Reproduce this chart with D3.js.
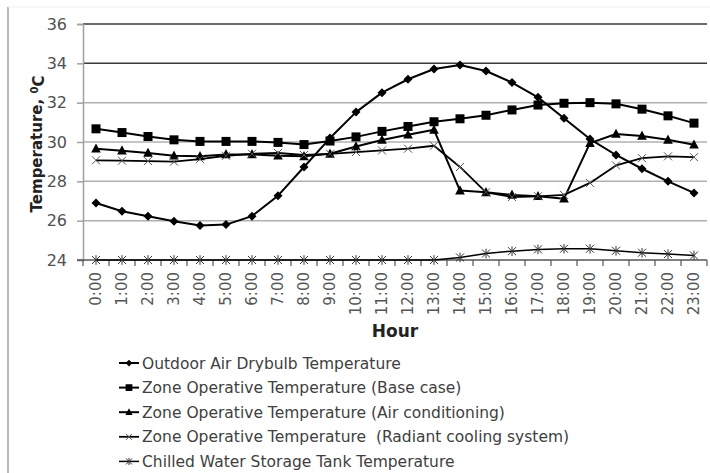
<!DOCTYPE html>
<html>
<head>
<meta charset="utf-8">
<script src="https://cdn.jsdelivr.net/npm/d3@7"></script>
<style>
  body { margin: 0; background: #fff; }
  svg { display: block; font-family: "DejaVu Sans", sans-serif; }
</style>
</head>
<body>
<div id="chart"></div>
<script>
// categories
var hours = ["0:00","1:00","2:00","3:00","4:00","5:00","6:00","7:00","8:00","9:00","10:00","11:00",
             "12:00","13:00","14:00","15:00","16:00","17:00","18:00","19:00","20:00","21:00","22:00","23:00"];
var yTicks = [24, 26, 28, 30, 32, 34, 36];

// series values (deg C)
var outdoor  = [26.90, 26.48, 26.22, 25.97, 25.75, 25.80, 26.23, 27.27, 28.73, 30.20, 31.52, 32.51,
                33.19, 33.71, 33.92, 33.61, 33.02, 32.27, 31.21, 30.15, 29.34, 28.64, 28.00, 27.41];
var baseCase = [30.67, 30.48, 30.28, 30.11, 30.03, 30.03, 30.03, 29.98, 29.87, 30.05, 30.26, 30.54,
                30.79, 31.03, 31.18, 31.36, 31.63, 31.88, 31.97, 32.00, 31.94, 31.67, 31.33, 30.96];
var airCond  = [29.66, 29.56, 29.44, 29.30, 29.27, 29.37, 29.37, 29.30, 29.27, 29.40, 29.77, 30.10,
                30.37, 30.62, 27.53, 27.44, 27.31, 27.24, 27.12, 29.94, 30.41, 30.31, 30.11, 29.86];
var radiant  = [29.07, 29.05, 29.03, 29.00, 29.13, 29.30, 29.40, 29.44, 29.34, 29.40, 29.49, 29.57,
                29.66, 29.81, 28.73, 27.44, 27.20, 27.24, 27.31, 27.92, 28.81, 29.18, 29.27, 29.23];
var tank     = [24.00, 24.00, 24.00, 24.00, 24.00, 24.00, 24.00, 24.00, 24.00, 24.00, 24.00, 24.00,
                24.00, 24.00, 24.13, 24.33, 24.45, 24.54, 24.57, 24.57, 24.47, 24.37, 24.30, 24.23];

var seriesNames = [
  "Outdoor Air Drybulb Temperature",
  "Zone Operative Temperature (Base case)",
  "Zone Operative Temperature (Air conditioning)",
  "Zone Operative Temperature  (Radiant cooling system)",
  "Chilled Water Storage Tank Temperature"
];
var seriesValues = [outdoor, baseCase, airCond, radiant, tank];
var seriesMarkers = ["diamond", "square", "triangle", "cross", "star"];

var W = 710, H = 473;
var margin = {top: 24, right: 3, bottom: 213, left: 83};
var width = W - margin.left - margin.right,
    height = H - margin.top - margin.bottom;

var svg = d3.select("#chart").append("svg")
    .attr("width", W)
    .attr("height", H);

// chart frame (only left and top edges are visible)
svg.append("line").attr("x1", 8).attr("x2", 8).attr("y1", 7).attr("y2", H)
    .style("stroke", "#a0a0a0").style("stroke-width", 1.5);
svg.append("line").attr("x1", 8).attr("x2", W).attr("y1", 7).attr("y2", 7)
    .style("stroke", "#eeeeee");

var g = svg.append("g")
    .attr("transform", "translate(" + margin.left + "," + margin.top + ")");

var xScale = d3.scaleBand().domain(hours).range([0, width]);
var yScale = d3.scaleLinear().domain([24, 36]).range([height, 0]);

// gridlines
g.selectAll("line.grid").data(yTicks.filter(function(d) { return d > 24; })).enter()
  .append("line")
    .attr("class", "grid")
    .attr("x1", 0).attr("x2", width)
    .attr("y1", function(d) { return yScale(d); })
    .attr("y2", function(d) { return yScale(d); })
    .style("stroke", function(d) { return d >= 34 ? "#3a3a3a" : "#b0b0b0"; })
    .style("stroke-width", 1.5);

// y axis
var yAxisG = g.append("g")
    .call(d3.axisLeft(yScale).tickValues(yTicks).tickSize(6).tickPadding(10));
yAxisG.select(".domain").style("stroke", "#a0a0a0").style("stroke-width", 1.5);
yAxisG.selectAll(".tick line").style("stroke", "#a0a0a0").style("stroke-width", 1.5);
yAxisG.selectAll("text")
    .style("font-size", "16px")
    .style("fill", "#505050")
    .attr("font-family", "DejaVu Sans");

// x axis with ticks between categories
var xAxisG = g.append("g")
    .attr("transform", "translate(0," + height + ")");
xAxisG.append("line")
    .attr("x1", -6).attr("x2", width)
    .style("stroke", "#555").style("stroke-width", 1.5);
var boundaries = [0].concat(hours.map(function(h) { return xScale(h) + xScale.bandwidth(); }));
xAxisG.selectAll("line.xtick").data(boundaries).enter().append("line")
    .attr("class", "xtick")
    .attr("x1", function(d) { return d; }).attr("x2", function(d) { return d; })
    .attr("y1", 0).attr("y2", 6)
    .style("stroke", "#555").style("stroke-width", 1.2);
xAxisG.selectAll("text.xlab").data(hours).enter().append("text")
    .attr("class", "xlab")
    .attr("transform", function(d) {
        return "translate(" + (xScale(d) + xScale.bandwidth() / 2) + ",12) rotate(-90)";
    })
    .attr("text-anchor", "end")
    .attr("dy", "0.35em")
    .style("font-size", "15px")
    .style("fill", "#555")
    .text(function(d) { return d; });

// axis titles
var yTitle = svg.append("text")
    .attr("transform", "translate(42,144) rotate(-90)")
    .attr("text-anchor", "middle")
    .style("font-size", "15px")
    .style("font-weight", "bold")
    .style("fill", "#222");
yTitle.append("tspan").text("Temperature, ");
yTitle.append("tspan").attr("dy", "-0.45em").style("font-size", "10px").text("0");
yTitle.append("tspan").attr("dy", "0.45em").text("C");

svg.append("text")
    .attr("x", margin.left + width / 2)
    .attr("y", 337)
    .attr("text-anchor", "middle")
    .style("font-size", "17px")
    .style("font-weight", "bold")
    .style("fill", "#222")
    .text("Hour");

// marker drawing
function drawMarker(sel, type, s) {
    if (type === "diamond") {
        sel.append("path").attr("d", "M0," + (-s) + "L" + s + ",0L0," + s + "L" + (-s) + ",0Z")
            .style("fill", "#000");
    } else if (type === "square") {
        sel.append("rect").attr("x", -s).attr("y", -s).attr("width", 2 * s).attr("height", 2 * s)
            .style("fill", "#000");
    } else if (type === "triangle") {
        sel.append("path").attr("d", "M0," + (-s * 1.1) + "L" + s + "," + (s * 0.8) + "L" + (-s) + "," + (s * 0.8) + "Z")
            .style("fill", "#000");
    } else if (type === "cross") {
        sel.append("path").attr("d", "M" + (-s) + "," + (-s) + "L" + s + "," + s + "M" + (-s) + "," + s + "L" + s + "," + (-s))
            .style("stroke", "#555").style("stroke-width", 1).style("fill", "none");
    } else if (type === "star") {
        sel.append("path").attr("d", "M" + (-s) + "," + (-s) + "L" + s + "," + s + "M" + (-s) + "," + s + "L" + s + "," + (-s) +
                "M0," + (-s * 1.2) + "L0," + (s * 1.2))
            .style("stroke", "#333").style("stroke-width", 1).style("fill", "none");
    }
}
var markerSize = {diamond: 4.5, square: 4.5, triangle: 4.8, cross: 4, star: 4};
var lineWidth = [2, 2, 2, 1.8, 1.5];

var line = d3.line()
    .x(function(d, i) { return xScale(hours[i]) + xScale.bandwidth() / 2; })
    .y(function(d) { return yScale(d); });

seriesValues.forEach(function(vals, k) {
    g.append("path")
        .datum(vals)
        .attr("d", line)
        .style("fill", "none")
        .style("stroke", "#000")
        .style("stroke-width", lineWidth[k])
        .style("stroke-linejoin", "round");
    g.selectAll("g.m" + k).data(vals).enter().append("g")
        .attr("class", "m" + k)
        .attr("transform", function(d, i) {
            return "translate(" + (xScale(hours[i]) + xScale.bandwidth() / 2) + "," + yScale(d) + ")";
        })
        .each(function() { drawMarker(d3.select(this), seriesMarkers[k], markerSize[seriesMarkers[k]]); });
});

// legend
var legend = svg.append("g").attr("transform", "translate(119,363)");
seriesNames.forEach(function(name, k) {
    var row = legend.append("g").attr("transform", "translate(0," + (k * 24.6) + ")");
    row.append("line").attr("x1", 0).attr("x2", 20)
        .style("stroke", "#000").style("stroke-width", lineWidth[k]);
    var m = row.append("g").attr("transform", "translate(10,0)");
    drawMarker(m, seriesMarkers[k], markerSize[seriesMarkers[k]] * 0.75);
    row.append("text")
        .attr("x", 23)
        .attr("dy", "0.36em")
        .style("font-size", "15.5px")
        .style("fill", "#404040")
        .style("white-space", "pre")
        .text(name);
});
</script>
</body>
</html>
